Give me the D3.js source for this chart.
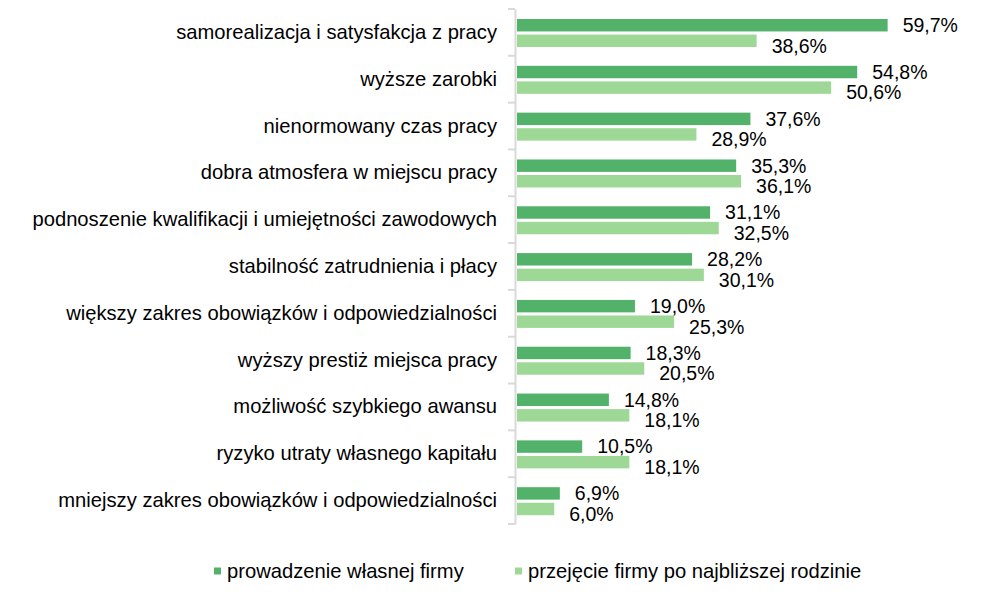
<!DOCTYPE html>
<html>
<head>
<meta charset="utf-8">
<script src="https://cdn.jsdelivr.net/npm/d3@7"></script>
<style>
  body { margin: 0; background: #fff; }
  text { font-family: "Liberation Sans", Arial, sans-serif; fill: #000; }
</style>
</head>
<body>
<svg width="989" height="606"></svg>
<script>
// categories, top to bottom
var categories = [
  "samorealizacja i satysfakcja z pracy",
  "wyższe zarobki",
  "nienormowany czas pracy",
  "dobra atmosfera w miejscu pracy",
  "podnoszenie kwalifikacji i umiejętności zawodowych",
  "stabilność zatrudnienia i płacy",
  "większy zakres obowiązków i odpowiedzialności",
  "wyższy prestiż miejsca pracy",
  "możliwość szybkiego awansu",
  "ryzyko utraty własnego kapitału",
  "mniejszy zakres obowiązków i odpowiedzialności"
];
var series = ["prowadzenie własnej firmy", "przejęcie firmy po najbliższej rodzinie"];
var ownFirm = [59.7, 54.8, 37.6, 35.3, 31.1, 28.2, 19.0, 18.3, 14.8, 10.5, 6.9];
var familyFirm = [38.6, 50.6, 28.9, 36.1, 32.5, 30.1, 25.3, 20.5, 18.1, 18.1, 6.0];
var colors = ["#52b26a", "#9ed896"];
var fsVal = "19.5px", fsCat = "20.2px";

var svg = d3.select("svg");

var x = d3.scaleLinear().domain([0, 60]).range([517, 889.5]);
var y = d3.scaleBand().domain(categories).range([9, 524]);
var sub = d3.scaleBand().domain([0, 1]).range([10, 38]).paddingInner(0.2);

var rows = categories.map(function(c, i) {
  return { cat: c, vals: [ownFirm[i], familyFirm[i]] };
});

var g = svg.selectAll("g.row").data(rows).enter().append("g")
  .attr("class", "row")
  .attr("transform", function(d) { return "translate(0," + y(d.cat) + ")"; });

g.selectAll("rect").data(function(d) { return d.vals; }).enter().append("rect")
  .attr("x", x(0))
  .attr("y", function(d, j) { return sub(j); })
  .attr("width", function(d) { return x(d) - x(0); })
  .attr("height", sub.bandwidth())
  .attr("fill", function(d, j) { return colors[j]; });

g.selectAll("text.val").data(function(d) { return d.vals; }).enter().append("text")
  .attr("class", "val")
  .attr("x", function(d) { return x(d) + 15; })
  .attr("y", function(d, j) { return sub(j) + sub.bandwidth() / 2 + (j == 1 ? 5 : 0); })
  .attr("dy", "0.35em")
  .style("font-size", fsVal)
  .text(function(d) { return d.toFixed(1).replace(".", ",") + "%"; });

// category axis
var axis = svg.append("g").attr("transform", "translate(515,0)")
  .call(d3.axisLeft(y).tickSize(0).tickPadding(18));
axis.select(".domain").attr("stroke", "#d9d9d9").attr("stroke-width", 2);
axis.selectAll(".tick text").style("font-size", fsCat).attr("fill", "#000");

var bounds = d3.range(categories.length + 1).map(function(i) { return 9 + i * y.step(); });
svg.selectAll("line.tk").data(bounds).enter().append("line")
  .attr("x1", 508).attr("x2", 515)
  .attr("y1", function(d) { return d; }).attr("y2", function(d) { return d; })
  .attr("stroke", "#d9d9d9").attr("stroke-width", 2);

// legend
var legX = [214, 515];
var leg = svg.selectAll("g.leg").data(series).enter().append("g")
  .attr("transform", function(d, i) { return "translate(" + legX[i] + ",567.5)"; });
leg.append("rect").attr("width", 7).attr("height", 7)
  .attr("fill", function(d, i) { return colors[i]; });
leg.append("text").attr("x", 13).attr("y", 3.5).attr("dy", "0.35em")
  .style("font-size", fsCat).text(function(d) { return d; });
</script>
</body>
</html>
